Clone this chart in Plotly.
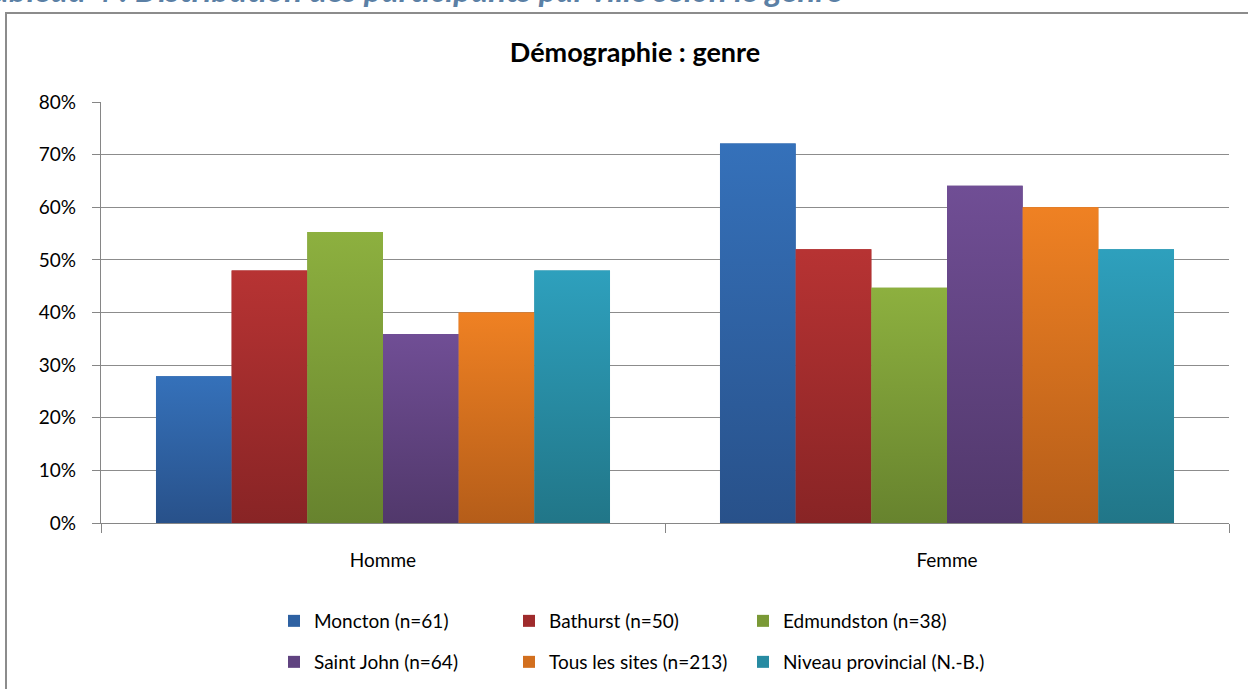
import plotly.graph_objects as go

# Participants by gender, per site (percent)
genres = ["Homme", "Femme"]
series = [
    "Moncton (n=61)",
    "Bathurst (n=50)",
    "Edmundston (n=38)",
    "Saint John (n=64)",
    "Tous les sites (n=213)",
    "Niveau provincial (N.-B.)",
]
moncton = [27.9, 72.1]
bathurst = [48.0, 52.0]
edmundston = [55.3, 44.7]
saint_john = [35.9, 64.1]
tous_les_sites = [40.0, 60.0]
provincial = [48.0, 52.0]
values = [moncton, bathurst, edmundston, saint_john, tous_les_sites, provincial]

# (top, bottom) shades of each series' vertical gradient
shades = [
    ("#3571ba", "#28518a"),
    ("#b73333", "#882425"),
    ("#8db03f", "#67832e"),
    ("#704e95", "#51386b"),
    ("#ef8123", "#b55d19"),
    ("#2ea0bd", "#217688"),
]


def mix(a, b):
    ca = [int(a[i:i + 2], 16) for i in (1, 3, 5)]
    cb = [int(b[i:i + 2], 16) for i in (1, 3, 5)]
    return "#" + "".join(f"{(x + y) // 2:02x}" for x, y in zip(ca, cb))


W, H = 1248, 689
L, R, T, B = 101, 19, 102, 166
pw, ph = W - L - R, H - T - B


def px_x(px):
    return (px - L) / pw


def px_y(py):
    return (H - B - py) / ph


FONT = "Lato"
BARGAP = 0.195
n = len(series)
bw = (1 - BARGAP) / n

# legend grid: three columns, two rows
legend_cols = [274, 509, 743]
legend_rows = [621, 662]
legend_names = ["legend"] + [f"legend{k}" for k in range(2, n + 1)]

fig = go.Figure()
for i, (name, vals, (top, bot)) in enumerate(zip(series, values, shades)):
    offset = -(1 - BARGAP) / 2 + i * bw
    fig.add_trace(go.Bar(
        name=name, x=genres, y=vals, width=bw, offset=offset,
        marker=dict(color=mix(top, bot), line=dict(width=0)),
        legend=legend_names[i],
        hoverinfo="skip",
    ))
    # gradient face of each bar, on an overlaid numeric axis
    for g, v in enumerate(vals):
        x0 = g + offset
        x1 = x0 + bw
        fig.add_trace(go.Scatter(
            x=[x0, x1, x1, x0, x0], y=[0, 0, v, v, 0],
            xaxis="x2", mode="none", fill="toself",
            fillgradient=dict(type="vertical",
                              colorscale=[[0, bot], [1, top]]),
            showlegend=False, hoverinfo="skip",
        ))

legends = {}
for i, key in enumerate(legend_names):
    legends[key] = dict(
        x=px_x(legend_cols[i % 3]), y=px_y(legend_rows[i // 3]),
        orientation="h", xanchor="left", yanchor="middle",
        font=dict(family=FONT, size=19), itemwidth=30,
        bgcolor="rgba(0,0,0,0)",
    )

fig.update_layout(
    width=W, height=H,
    margin=dict(l=L, r=R, t=T, b=B, autoexpand=False),
    paper_bgcolor="white", plot_bgcolor="white",
    barmode="overlay",
    font=dict(family=FONT, size=19, color="#000000"),
    title=dict(text="<b>Démographie : genre</b>", x=px_x(635), xref="paper",
               xanchor="center", y=1 - 53 / H, yanchor="middle",
               font=dict(family=FONT, size=27, color="#000000")),
    xaxis=dict(
        range=[-0.5, 1.5],
        showline=True, linecolor="#868686", linewidth=1.3,
        ticks="outside", ticklen=9, tickcolor="#868686", tickwidth=1.3,
        tickson="boundaries", showgrid=False,
        tickfont=dict(size=19), ticklabelstandoff=20,
    ),
    xaxis2=dict(range=[-0.5, 1.5], overlaying="x", visible=False),
    yaxis=dict(
        range=[0, 80], dtick=10, ticksuffix="%",
        showline=True, linecolor="#868686", linewidth=1.3,
        ticks="outside", ticklen=8, tickcolor="#868686", tickwidth=1.3,
        showgrid=True, gridcolor="#8c8c8c", gridwidth=1.3,
        zeroline=False, tickfont=dict(size=19), ticklabelstandoff=12,
    ),
    showlegend=True,
    **legends,
)

# outer chart frame
fig.add_shape(type="rect", xref="paper", yref="paper",
              x0=px_x(6), x1=px_x(1260), y0=px_y(700), y1=px_y(13),
              line=dict(color="#8c8c8c", width=2), fillcolor="rgba(0,0,0,0)",
              layer="below")

# caption above the frame
fig.add_annotation(
    text="<b><i>Tableau 4 : Distribution des participants par ville selon le genre</i></b>",
    xref="paper", yref="paper", x=px_x(-25), y=px_y(10.5), xanchor="left",
    yanchor="bottom", showarrow=False,
    font=dict(family=FONT, size=33, color="#5b80a5"),
)

fig.write_html("out.html")
